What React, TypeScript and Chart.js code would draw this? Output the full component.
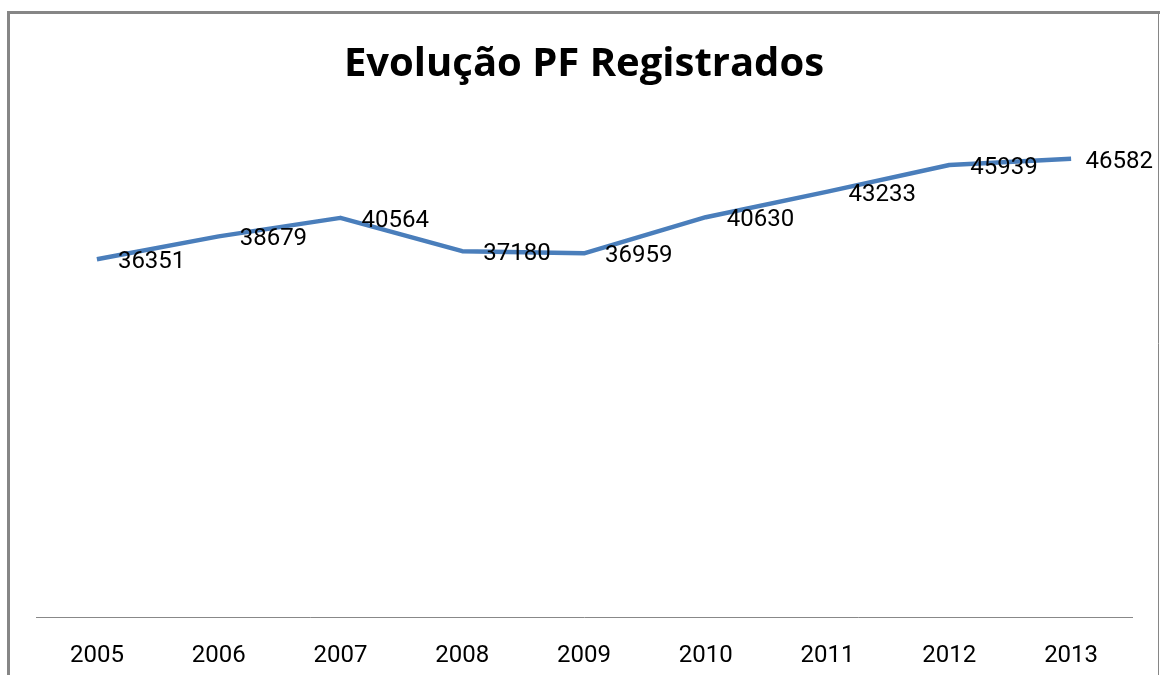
import React, { useEffect, useRef } from "react";
import { Chart, registerables } from "chart.js";

Chart.register(...registerables);

const chartTitle = "Evolução PF Registrados";
const years = ["2005", "2006", "2007", "2008", "2009", "2010", "2011", "2012", "2013"];
const registrados = [36351, 38679, 40564, 37180, 36959, 40630, 43233, 45939, 46582];
const yMin = 0;
const yMax = 50000;

const W = 1160;
const H = 675;

export default function App() {
  const ref = useRef<HTMLCanvasElement | null>(null);

  useEffect(() => {
    if (!ref.current) return;

    const framePlugin = {
      id: "frame",
      beforeDraw(chart: any) {
        const ctx = chart.ctx;
        ctx.save();
        ctx.fillStyle = "#ffffff";
        ctx.fillRect(0, 0, W, H);
        ctx.strokeStyle = "#868686";
        ctx.lineWidth = 3;
        ctx.beginPath();
        ctx.moveTo(W, 12.5);
        ctx.lineTo(8.5, 12.5);
        ctx.lineTo(8.5, H);
        ctx.stroke();
        ctx.lineWidth = 1;
        ctx.beginPath();
        ctx.moveTo(1158.5, 12);
        ctx.lineTo(1158.5, H);
        ctx.stroke();
        // title
        ctx.fillStyle = "#000000";
        ctx.font = "bold 40px 'Open Sans', sans-serif";
        ctx.textAlign = "center";
        ctx.textBaseline = "middle";
        ctx.fillText(chartTitle, 584, 65);
        ctx.restore();
      },
    };

    const labelPlugin = {
      id: "valueLabels",
      afterDatasetsDraw(chart: any) {
        const ctx = chart.ctx;
        const meta = chart.getDatasetMeta(0);
        ctx.save();
        ctx.fillStyle = "#000000";
        ctx.font = "24px Roboto, sans-serif";
        ctx.textAlign = "left";
        ctx.textBaseline = "middle";
        meta.data.forEach((pt: any, i: number) => {
          const txt = String(registrados[i]);
          const w = ctx.measureText(txt).width;
          let x = pt.x + 21;
          if (x + w > 1153) x = 1153 - w;
          ctx.fillText(txt, x, pt.y + 3);
        });
        ctx.restore();
      },
    };

    const chart = new Chart(ref.current, {
      type: "line",
      data: {
        labels: years,
        datasets: [
          {
            data: registrados,
            borderColor: "#4a7ebb",
            borderWidth: 4.5,
            pointRadius: 0,
            tension: 0,
            borderJoinStyle: "round",
            fill: false,
          },
        ],
      },
      options: {
        responsive: false,
        animation: false,
        layout: { padding: { left: 36, right: 28, top: 125, bottom: 0 } },
        plugins: {
          legend: { display: false },
          title: { display: false },
          tooltip: { enabled: false },
        },
        scales: {
          x: {
            offset: true,
            grid: { display: false, drawTicks: false },
            border: { display: true, color: "#888888", width: 1 },
            ticks: {
              color: "#000000",
              font: { family: "Roboto, sans-serif", size: 24 },
              padding: 25,
              maxRotation: 0,
            },
            afterFit(scale: any) {
              scale.height = 58;
            },
          },
          y: {
            display: false,
            min: yMin,
            max: yMax,
          },
        },
      },
      plugins: [framePlugin, labelPlugin],
    } as any);

    return () => chart.destroy();
  }, []);

  return (
    <div style={{ position: "fixed", left: 0, top: 0, width: W, height: H, background: "#fff" }}>
      <canvas ref={ref} width={W} height={H} style={{ width: W, height: H, display: "block" }} />
    </div>
  );
}
